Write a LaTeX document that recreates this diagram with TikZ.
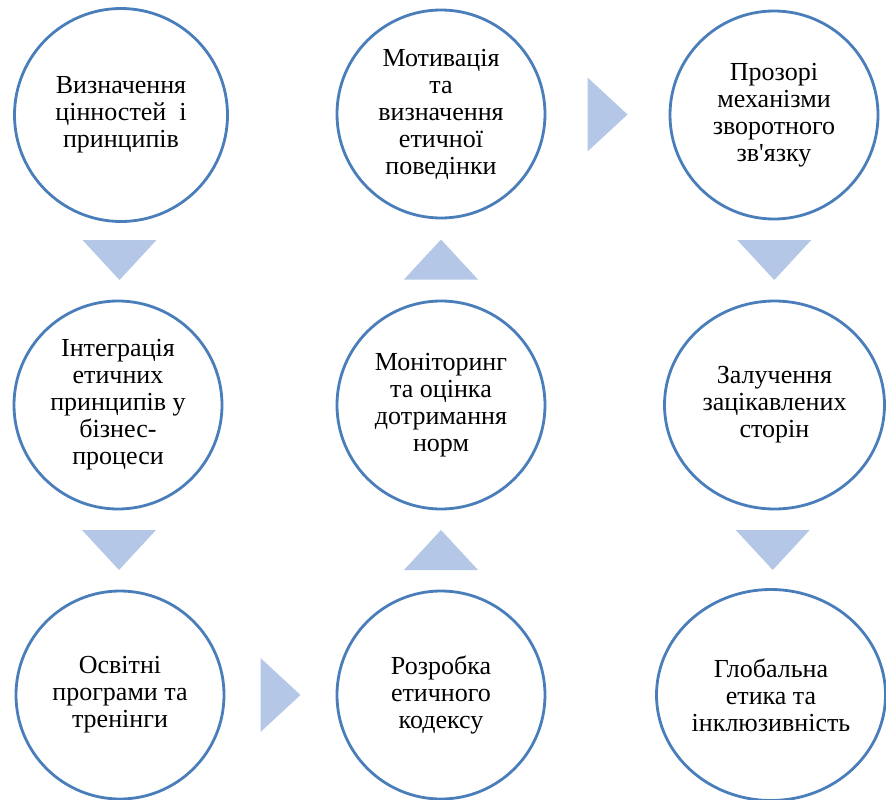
\documentclass[tikz,border=0pt]{standalone}
\usepackage{fontspec}
\setmainfont{Liberation Serif}
\usetikzlibrary{calc,shapes.geometric}
\definecolor{RingBlue}{HTML}{4A7EBB}
\definecolor{FlowBlue}{HTML}{B4C7E7}

\begin{document}
\begin{tikzpicture}[
  x=1pt, y=-1pt,
  stage/.style={draw=RingBlue, line width=2.8pt, fill=white, circle, inner sep=0pt, minimum size=208pt, align=center, font=\fontsize{26}{27}\selectfont},
  wide/.style={stage, ellipse},
  flow/.style={fill=FlowBlue}
]
\useasboundingbox (0,0) rectangle (886,800);

% stages, column by column
\node[stage, minimum size=213pt] (values) at (121,115) {Визначення\\цінностей \ і\\принципів};
\node[stage] (integr) at (118,405) {Інтеграція\\етичних\\принципів у\\бізнес-\\процеси};
\node[stage] (edu) at (120,695) {Освітні\\програми та\\тренінги};
\node[stage] (motiv) at (441,114) {Мотивація\\та\\визначення\\етичної\\поведінки};
\node[stage] (monit) at (441,405) {Моніторинг\\та оцінка\\дотримання\\норм};
\node[stage] (code) at (441,695) {Розробка\\етичного\\кодексу};
\node[stage] (feedb) at (774,115) {Прозорі\\механізми\\зворотного\\зв\textquotesingle язку};
\node[wide, minimum width=220pt, minimum height=208pt] (stake) at (774.5,405) {Залучення\\зацікавлених\\сторін};
\node[wide, minimum width=229pt, minimum height=211pt] (global) at (771,695) {Глобальна\\етика та\\інклюзивність};

% arrow heads between stages
\coordinate (a1) at ($(values)!.5!(integr)$);
\coordinate (a2) at ($(integr)!.5!(edu)$);
\coordinate (a3) at ($(edu)!.5!(code)$);
\coordinate (a4) at ($(code)!.5!(monit)$);
\coordinate (a5) at ($(monit)!.5!(motiv)$);
\coordinate (a6) at ($(motiv)!.5!(feedb)$);
\coordinate (a7) at ($(feedb)!.5!(stake)$);
\coordinate (a8) at ($(stake)!.5!(global)$);

\fill[flow] (a1) +(-37,-20) -- +(37,-20) -- +(0,20) -- cycle;
\fill[flow] (a2) +(-37,-20) -- +(37,-20) -- +(0,20) -- cycle;
\fill[flow] (a3) +(-20,-37) -- +(20,0) -- +(-20,37) -- cycle;
\fill[flow] (a4) +(0,-20) -- +(37,20) -- +(-37,20) -- cycle;
\fill[flow] (a5) +(0,-20) -- +(37,20) -- +(-37,20) -- cycle;
\fill[flow] (a6) +(-20,-37) -- +(20,0) -- +(-20,37) -- cycle;
\fill[flow] (a7) +(-37,-20) -- +(37,-20) -- +(0,20) -- cycle;
\fill[flow] (a8) +(-37,-20) -- +(37,-20) -- +(0,20) -- cycle;
\end{tikzpicture}
\end{document}
